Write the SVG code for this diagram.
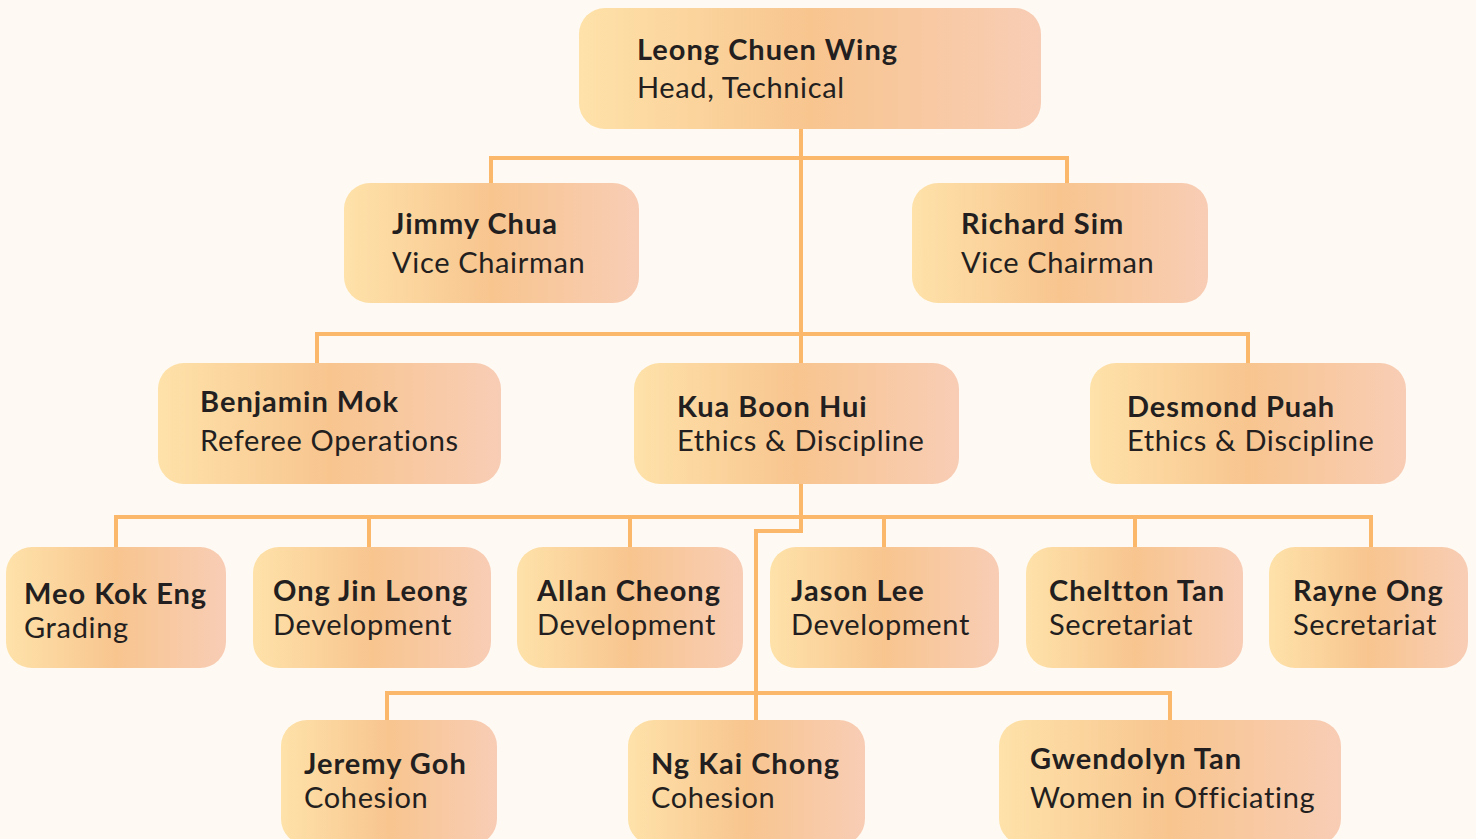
<svg xmlns="http://www.w3.org/2000/svg" width="1476" height="839" viewBox="0 0 1476 839">
  <defs>
    <linearGradient id="boxFill" x1="0" y1="0" x2="1" y2="0">
      <stop offset="0" stop-color="#FEE2A9"/>
      <stop offset="0.5" stop-color="#F8C58F"/>
      <stop offset="1" stop-color="#F8CDB5"/>
    </linearGradient>
    <style>
      .box { fill: url(#boxFill); }
      .name { font-family: Lato, "Liberation Sans", sans-serif; font-weight: 700; font-size: 29px; letter-spacing: 1px; fill: #231F20; }
      .role { font-family: Lato, "Liberation Sans", sans-serif; font-weight: 400; font-size: 29px; letter-spacing: 0.65px; fill: #231F20; }
      .link { fill: none; stroke: #FBB76A; stroke-width: 4; stroke-linejoin: miter; }
    </style>
  </defs>

  <rect width="1476" height="839" fill="#FEFAF3"/>

  <!-- connectors -->
  <g id="connectors">
    <path class="link" d="M801 129 V363"/>
    <path class="link" d="M491 183 V158 H1067 V183"/>
    <path class="link" d="M317 363 V334 H1248 V363"/>
    <path class="link" d="M801 484 V531 H756 V720"/>
    <path class="link" d="M116 547 V517 H1371 V547"/>
    <path class="link" d="M369 517 V547 M630 517 V547 M884 517 V547 M1135 517 V547"/>
    <path class="link" d="M387 720 V693 H1170 V720"/>
  </g>

  <!-- level 1 -->
  <g id="node-leong">
    <rect class="box" x="579" y="8" width="462" height="121" rx="26"/>
    <text class="name" x="637" y="60">Leong Chuen Wing</text>
    <text class="role" x="637" y="98">Head, Technical</text>
  </g>

  <!-- level 2 -->
  <g id="node-jimmy">
    <rect class="box" x="344" y="183" width="295" height="120" rx="26"/>
    <text class="name" x="392" y="234">Jimmy Chua</text>
    <text class="role" x="392" y="273">Vice Chairman</text>
  </g>
  <g id="node-richard">
    <rect class="box" x="912" y="183" width="296" height="120" rx="26"/>
    <text class="name" x="961" y="234">Richard Sim</text>
    <text class="role" x="961" y="273">Vice Chairman</text>
  </g>

  <!-- level 3 -->
  <g id="node-benjamin">
    <rect class="box" x="158" y="363" width="343" height="121" rx="26"/>
    <text class="name" x="200" y="412">Benjamin Mok</text>
    <text class="role" x="200" y="451">Referee Operations</text>
  </g>
  <g id="node-kua">
    <rect class="box" x="634" y="363" width="325" height="121" rx="26"/>
    <text class="name" x="677" y="417">Kua Boon Hui</text>
    <text class="role" x="677" y="451">Ethics &amp; Discipline</text>
  </g>
  <g id="node-desmond">
    <rect class="box" x="1090" y="363" width="316" height="121" rx="26"/>
    <text class="name" x="1127" y="417">Desmond Puah</text>
    <text class="role" x="1127" y="451">Ethics &amp; Discipline</text>
  </g>

  <!-- level 4 -->
  <g id="node-meo">
    <rect class="box" x="6" y="547" width="220" height="121" rx="26"/>
    <text class="name" x="24" y="604">Meo Kok Eng</text>
    <text class="role" x="24" y="638">Grading</text>
  </g>
  <g id="node-ong">
    <rect class="box" x="253" y="547" width="238" height="121" rx="26"/>
    <text class="name" x="273" y="601">Ong Jin Leong</text>
    <text class="role" x="273" y="635">Development</text>
  </g>
  <g id="node-allan">
    <rect class="box" x="517" y="547" width="226" height="121" rx="26"/>
    <text class="name" x="537" y="601">Allan Cheong</text>
    <text class="role" x="537" y="635">Development</text>
  </g>
  <g id="node-jason">
    <rect class="box" x="770" y="547" width="229" height="121" rx="26"/>
    <text class="name" x="791" y="601">Jason Lee</text>
    <text class="role" x="791" y="635">Development</text>
  </g>
  <g id="node-cheltton">
    <rect class="box" x="1026" y="547" width="217" height="121" rx="26"/>
    <text class="name" x="1049" y="601">Cheltton Tan</text>
    <text class="role" x="1049" y="635">Secretariat</text>
  </g>
  <g id="node-rayne">
    <rect class="box" x="1269" y="547" width="199" height="121" rx="26"/>
    <text class="name" x="1293" y="601">Rayne Ong</text>
    <text class="role" x="1293" y="635">Secretariat</text>
  </g>

  <!-- level 5 -->
  <g id="node-jeremy">
    <rect class="box" x="281" y="720" width="216" height="125" rx="26"/>
    <text class="name" x="304" y="774">Jeremy Goh</text>
    <text class="role" x="304" y="808">Cohesion</text>
  </g>
  <g id="node-ng">
    <rect class="box" x="628" y="720" width="237" height="125" rx="26"/>
    <text class="name" x="651" y="774">Ng Kai Chong</text>
    <text class="role" x="651" y="808">Cohesion</text>
  </g>
  <g id="node-gwendolyn">
    <rect class="box" x="999" y="720" width="342" height="125" rx="26"/>
    <text class="name" x="1030" y="769">Gwendolyn Tan</text>
    <text class="role" x="1030" y="808">Women in Officiating</text>
  </g>
</svg>
